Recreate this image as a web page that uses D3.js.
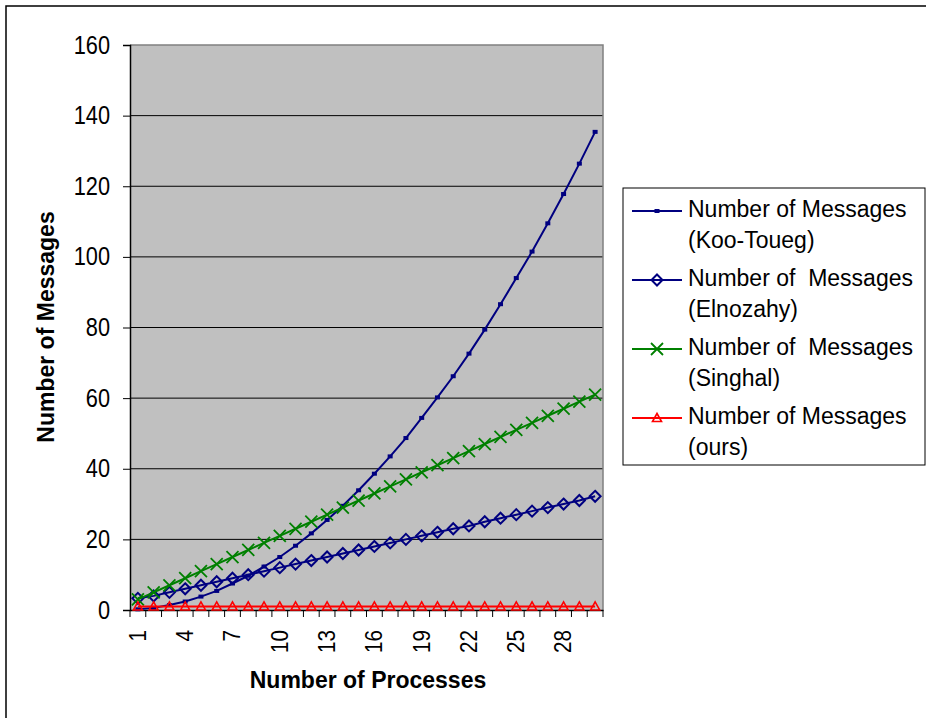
<!DOCTYPE html>
<html>
<head>
<meta charset="utf-8">
<script src="https://cdn.jsdelivr.net/npm/d3@7"></script>
<style>
  body { margin: 0; background: #fff; }
  text { font-family: "Liberation Sans", Arial, sans-serif; fill: #000; }
</style>
</head>
<body>
<svg id="chart" width="926" height="718"></svg>
<script>
const processes = [1, 2, 3, 4, 5, 6, 7, 8, 9, 10, 11, 12, 13, 14, 15,
  16, 17, 18, 19, 20, 21, 22, 23, 24, 25, 26, 27, 28, 29, 30];
const kooToueg = [0.2, 0.6, 1.4, 2.4, 3.8, 5.4, 7.5, 9.7, 12.3, 15, 18.2, 21.7, 25.5, 29.5, 33.9,
  38.6, 43.5, 48.7, 54.4, 60.2, 66.2, 72.6, 79.4, 86.6, 94, 101.5, 109.5, 117.8, 126.4, 135.4];
const elnozahy = [3.3, 4, 5, 6, 7, 8, 9, 10, 11, 12, 13, 14, 15, 16, 17,
  18, 19, 20, 21, 22, 23, 23.8, 25, 26, 27, 28, 29, 30, 31, 32.2];
const singhal = [3, 5, 7, 9, 11, 13, 15, 17, 19, 21, 23, 25, 27, 29, 31,
  33, 35, 37, 39, 41, 43, 45, 47, 49, 51, 53, 55, 57, 59, 61];
const ours = [1, 1, 1, 1, 1, 1, 1, 1, 1, 1, 1, 1, 1, 1, 1,
  1, 1, 1, 1, 1, 1, 1, 1, 1, 1, 1, 1, 1, 1, 1];
const yTicks = [0, 20, 40, 60, 80, 100, 120, 140, 160];
const xLabels = [1, 4, 7, 10, 13, 16, 19, 22, 25, 28];
const legendLines = [
  ['Number of Messages', '(Koo-Toueg)'],
  ['Number of  Messages', '(Elnozahy)'],
  ['Number of  Messages', '(Singhal)'],
  ['Number of Messages', '(ours)']
];

const series = [
  {values: kooToueg, color: '#000080', marker: 'square'},
  {values: elnozahy, color: '#000080', marker: 'diamond'},
  {values: singhal, color: '#008000', marker: 'cross'},
  {values: ours, color: '#ff0000', marker: 'triangle'}
];

const svg = d3.select('#chart');
const margin = {left: 130, top: 45, right: 323, bottom: 108};
const width = 926 - margin.left - margin.right;
const height = 718 - margin.top - margin.bottom;

// outer frame
svg.append('rect')
  .attr('x', 6).attr('y', 6)
  .attr('width', 940).attr('height', 740)
  .attr('fill', 'none').attr('stroke', '#000').attr('stroke-width', 1.5);

const g = svg.append('g')
  .attr('transform', 'translate(' + margin.left + ',' + margin.top + ')');

const x = d3.scaleBand().domain(processes).range([0, width]).padding(0);
const y = d3.scaleLinear().domain([0, 160]).range([height, 0]);
const cx = function(d) { return x(d) + x.bandwidth() / 2; };

g.append('rect')
  .attr('width', width).attr('height', height)
  .attr('fill', '#c0c0c0');

// gridlines
g.append('g')
  .selectAll('line')
  .data(yTicks.filter(function(t) { return t > 0 && t < 160; }))
  .join('line')
  .attr('x1', 0).attr('x2', width)
  .attr('y1', function(t) { return y(t); })
  .attr('y2', function(t) { return y(t); })
  .attr('stroke', '#000').attr('stroke-width', 1);

// grey plot border (top and right)
g.append('path')
  .attr('d', 'M0,0H' + width + 'V' + height)
  .attr('fill', 'none').attr('stroke', '#808080').attr('stroke-width', 1.5);

// y axis
const yAxis = g.append('g')
  .call(d3.axisLeft(y).tickValues(yTicks).tickSize(7).tickPadding(12));
yAxis.select('.domain').attr('stroke', '#000').attr('stroke-width', 1.5);
yAxis.selectAll('.tick line').attr('stroke', '#000');
yAxis.selectAll('text')
  .attr('font-size', 25)
  .style('font-family', '"Liberation Sans", Arial, sans-serif')
  .attr('x', null)
  .attr('transform', 'translate(-20,0) scale(0.87,1)');

// x axis: labels every 3rd category, ticks on category boundaries
const xAxis = g.append('g')
  .attr('transform', 'translate(0,' + height + ')')
  .call(d3.axisBottom(x).tickValues(xLabels).tickSize(0).tickPadding(0));
xAxis.select('.domain').attr('stroke', '#000').attr('stroke-width', 1.5);
xAxis.selectAll('text')
  .attr('font-size', 23)
  .style('font-family', '"Liberation Sans", Arial, sans-serif')
  .attr('text-anchor', 'end')
  .attr('dy', null)
  .attr('dominant-baseline', 'central')
  .attr('transform', 'translate(0,20) rotate(-90) scale(0.9,1)');

const bounds = processes.map(function(d) { return x(d); }).concat([width]);
xAxis.selectAll('.bound')
  .data(bounds)
  .join('line')
  .attr('class', 'bound')
  .attr('x1', function(d) { return d; }).attr('x2', function(d) { return d; })
  .attr('y1', 0).attr('y2', 7)
  .attr('stroke', '#000');

// axis titles
svg.append('text')
  .attr('x', 368).attr('y', 688)
  .attr('text-anchor', 'middle')
  .attr('font-size', 23).attr('font-weight', 'bold')
  .text('Number of Processes');

svg.append('text')
  .attr('transform', 'translate(54,327) rotate(-90)')
  .attr('text-anchor', 'middle')
  .attr('font-size', 23).attr('font-weight', 'bold')
  .text('Number of Messages');

function drawMarker(sel, type, color) {
  if (type === 'square') {
    sel.append('rect').attr('x', -2.5).attr('y', -2).attr('width', 5).attr('height', 4)
      .attr('fill', color);
  } else if (type === 'diamond') {
    sel.append('path').attr('d', 'M0,-5.5L5.5,0L0,5.5L-5.5,0Z')
      .attr('fill', 'none').attr('stroke', color).attr('stroke-width', 2);
  } else if (type === 'cross') {
    sel.append('path').attr('d', 'M-6,-6L6,6M-6,6L6,-6')
      .attr('fill', 'none').attr('stroke', color).attr('stroke-width', 1.8);
  } else {
    sel.append('path').attr('d', 'M0,-4.5L4.5,3.5L-4.5,3.5Z')
      .attr('fill', 'none').attr('stroke', color).attr('stroke-width', 1.6);
  }
}

const line = d3.line()
  .x(function(d, i) { return cx(processes[i]); })
  .y(function(d) { return y(d); });

series.forEach(function(s) {
  g.append('path')
    .datum(s.values)
    .attr('d', line)
    .attr('fill', 'none')
    .attr('stroke', s.color)
    .attr('stroke-width', 2);
  g.append('g')
    .selectAll('g')
    .data(s.values)
    .join('g')
    .attr('transform', function(d, i) { return 'translate(' + cx(processes[i]) + ',' + y(d) + ')'; })
    .each(function() { drawMarker(d3.select(this), s.marker, s.color); });
});

// legend
const legend = svg.append('g');
legend.append('rect')
  .attr('x', 623).attr('y', 188)
  .attr('width', 302).attr('height', 277)
  .attr('fill', '#fff').attr('stroke', '#000').attr('stroke-width', 1);

series.forEach(function(s, i) {
  const ly = 211 + i * 69;
  const item = legend.append('g');
  item.append('line')
    .attr('x1', 632).attr('x2', 682)
    .attr('y1', ly).attr('y2', ly)
    .attr('stroke', s.color).attr('stroke-width', 2);
  drawMarker(item.append('g').attr('transform', 'translate(657,' + ly + ')'), s.marker, s.color);
  legendLines[i].forEach(function(t, j) {
    item.append('text')
      .attr('x', 688).attr('y', ly + 6 + j * 31)
      .attr('font-size', 23)
      .style('white-space', 'pre')
      .text(t);
  });
});
</script>
</body>
</html>
